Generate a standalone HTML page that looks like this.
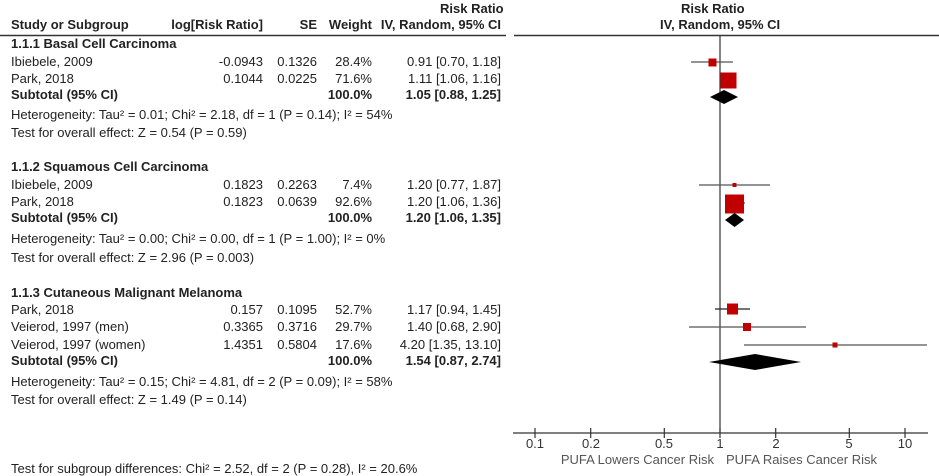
<!DOCTYPE html>
<html><head><meta charset="utf-8"><style>
body{margin:0;width:939px;height:476px;background:#fff;position:relative;overflow:hidden;font-family:"Liberation Sans",Arial,sans-serif;font-size:13px;color:#222}
.t{position:absolute;white-space:nowrap;line-height:14px}
.b{font-weight:bold}
.r{text-align:right}
</style></head><body>
<div class="t b" style="left:440px;top:2px">Risk Ratio</div>
<div class="t b" style="left:681px;top:2px">Risk Ratio</div>
<div class="t b" style="left:11px;top:18px">Study or Subgroup</div>
<div class="t b r" style="left:150px;width:113px;top:18px">log[Risk Ratio]</div>
<div class="t b r" style="left:280px;width:37px;top:18px">SE</div>
<div class="t b r" style="left:320px;width:52px;top:18px">Weight</div>
<div class="t b r" style="left:370px;width:131px;top:18px">IV, Random, 95% CI</div>
<div class="t b" style="left:660px;top:18px">IV, Random, 95% CI</div>

<div class="t b" style="left:11px;top:37px">1.1.1 Basal Cell Carcinoma</div>
<div class="t" style="left:11px;top:55px">Ibiebele, 2009</div><div class="t r" style="left:150px;width:113px;top:55px">-0.0943</div><div class="t r" style="left:270px;width:47px;top:55px">0.1326</div><div class="t r" style="left:320px;width:52px;top:55px">28.4%</div><div class="t r" style="left:370px;width:131px;top:55px">0.91 [0.70, 1.18]</div>
<div class="t" style="left:11px;top:72px">Park, 2018</div><div class="t r" style="left:150px;width:113px;top:72px">0.1044</div><div class="t r" style="left:270px;width:47px;top:72px">0.0225</div><div class="t r" style="left:320px;width:52px;top:72px">71.6%</div><div class="t r" style="left:370px;width:131px;top:72px">1.11 [1.06, 1.16]</div>
<div class="t b" style="left:11px;top:88px">Subtotal (95% CI)</div><div class="t b r" style="left:320px;width:52px;top:88px">100.0%</div><div class="t b r" style="left:370px;width:131px;top:88px">1.05 [0.88, 1.25]</div>
<div class="t" style="left:11px;top:108px">Heterogeneity: Tau² = 0.01; Chi² = 2.18, df = 1 (P = 0.14); I² = 54%</div>
<div class="t" style="left:11px;top:126px">Test for overall effect: Z = 0.54 (P = 0.59)</div>

<div class="t b" style="left:11px;top:160px">1.1.2 Squamous Cell Carcinoma</div>
<div class="t" style="left:11px;top:178px">Ibiebele, 2009</div><div class="t r" style="left:150px;width:113px;top:178px">0.1823</div><div class="t r" style="left:270px;width:47px;top:178px">0.2263</div><div class="t r" style="left:320px;width:52px;top:178px">7.4%</div><div class="t r" style="left:370px;width:131px;top:178px">1.20 [0.77, 1.87]</div>
<div class="t" style="left:11px;top:195px">Park, 2018</div><div class="t r" style="left:150px;width:113px;top:195px">0.1823</div><div class="t r" style="left:270px;width:47px;top:195px">0.0639</div><div class="t r" style="left:320px;width:52px;top:195px">92.6%</div><div class="t r" style="left:370px;width:131px;top:195px">1.20 [1.06, 1.36]</div>
<div class="t b" style="left:11px;top:211px">Subtotal (95% CI)</div><div class="t b r" style="left:320px;width:52px;top:211px">100.0%</div><div class="t b r" style="left:370px;width:131px;top:211px">1.20 [1.06, 1.35]</div>
<div class="t" style="left:11px;top:232px">Heterogeneity: Tau² = 0.00; Chi² = 0.00, df = 1 (P = 1.00); I² = 0%</div>
<div class="t" style="left:11px;top:251px">Test for overall effect: Z = 2.96 (P = 0.003)</div>

<div class="t b" style="left:11px;top:286px">1.1.3 Cutaneous Malignant Melanoma</div>
<div class="t" style="left:11px;top:303px">Park, 2018</div><div class="t r" style="left:150px;width:113px;top:303px">0.157</div><div class="t r" style="left:270px;width:47px;top:303px">0.1095</div><div class="t r" style="left:320px;width:52px;top:303px">52.7%</div><div class="t r" style="left:370px;width:131px;top:303px">1.17 [0.94, 1.45]</div>
<div class="t" style="left:11px;top:320px">Veierod, 1997 (men)</div><div class="t r" style="left:150px;width:113px;top:320px">0.3365</div><div class="t r" style="left:270px;width:47px;top:320px">0.3716</div><div class="t r" style="left:320px;width:52px;top:320px">29.7%</div><div class="t r" style="left:370px;width:131px;top:320px">1.40 [0.68, 2.90]</div>
<div class="t" style="left:11px;top:338px">Veierod, 1997 (women)</div><div class="t r" style="left:150px;width:113px;top:338px">1.4351</div><div class="t r" style="left:270px;width:47px;top:338px">0.5804</div><div class="t r" style="left:320px;width:52px;top:338px">17.6%</div><div class="t r" style="left:370px;width:131px;top:338px">4.20 [1.35, 13.10]</div>
<div class="t b" style="left:11px;top:354px">Subtotal (95% CI)</div><div class="t b r" style="left:320px;width:52px;top:354px">100.0%</div><div class="t b r" style="left:370px;width:131px;top:354px">1.54 [0.87, 2.74]</div>
<div class="t" style="left:11px;top:375px">Heterogeneity: Tau² = 0.15; Chi² = 4.81, df = 2 (P = 0.09); I² = 58%</div>
<div class="t" style="left:11px;top:393px">Test for overall effect: Z = 1.49 (P = 0.14)</div>

<div class="t" style="left:11px;top:462px">Test for subgroup differences: Chi² = 2.52, df = 2 (P = 0.28), I² = 20.6%</div>

<svg style="position:absolute;left:0;top:0" width="939" height="476">
<line x1="0" y1="35.5" x2="506" y2="35.5" stroke="#333" stroke-width="1.5"/>
<line x1="514" y1="35.5" x2="939" y2="35.5" stroke="#333" stroke-width="1.5"/>
<line x1="720" y1="36" x2="720" y2="433" stroke="#333" stroke-width="1.2"/>
<line x1="513" y1="433" x2="928" y2="433" stroke="#333" stroke-width="1.2"/>
<g stroke="#333" stroke-width="1.2">
<line x1="535" y1="428" x2="535" y2="438"/><line x1="590.7" y1="428" x2="590.7" y2="438"/><line x1="664.3" y1="428" x2="664.3" y2="438"/><line x1="720" y1="428" x2="720" y2="438"/><line x1="775.7" y1="428" x2="775.7" y2="438"/><line x1="849.3" y1="428" x2="849.3" y2="438"/><line x1="905" y1="428" x2="905" y2="438"/>
</g>
<g font-family="Liberation Sans,Arial,sans-serif" font-size="13" fill="#333" text-anchor="middle">
<text x="535" y="448">0.1</text><text x="591" y="448">0.2</text><text x="664" y="448">0.5</text><text x="720" y="448">1</text><text x="776" y="448">2</text><text x="849" y="448">5</text><text x="905" y="448">10</text>
<text x="714" y="464" text-anchor="end" fill="#555">PUFA Lowers Cancer Risk</text>
<text x="726" y="464" text-anchor="start" fill="#555">PUFA Raises Cancer Risk</text>
</g>
<g stroke="#555" stroke-width="1.2">
<line x1="691" y1="62" x2="733" y2="62"/>
<line x1="699" y1="185" x2="770" y2="185"/>
<line x1="725" y1="203" x2="745" y2="203"/>
<line x1="715" y1="309" x2="750" y2="309" stroke="#222"/>
<line x1="689" y1="327" x2="806" y2="327"/>
<line x1="744" y1="345" x2="927" y2="345"/>
</g>
<g fill="#c00000">
<rect x="708.5" y="58.5" width="8" height="8"/>
<rect x="720.5" y="72.5" width="16" height="16"/>
<rect x="732.5" y="183" width="4" height="4"/>
<rect x="725" y="194.5" width="19" height="19"/>
<rect x="727" y="303.5" width="11" height="11"/>
<rect x="743" y="323" width="8" height="8"/>
<rect x="832.5" y="342.5" width="5" height="5"/>
</g>
<g fill="#000">
<polygon points="710,97 724,90 738,97 724,104"/>
<polygon points="725,220 734.6,213 744,220 734.6,227"/>
<polygon points="709,362 755,354 801,362 755,370"/>
</g>
</svg>
</body></html>
